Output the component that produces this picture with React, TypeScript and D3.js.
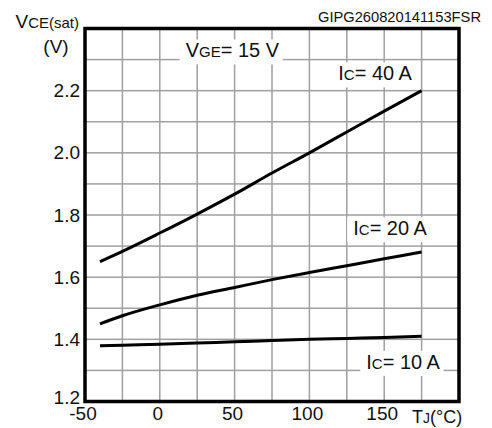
import * as d3 from "d3";
import { useLayoutEffect, useRef, useState } from "react";

// junction temperature (°C) and VCE(sat) (V)
const tempsC = [-40, -25, 0, 25, 50, 75, 100, 125, 150, 175];
const ic40 = [1.65, 1.683, 1.742, 1.803, 1.867, 1.935, 2.0, 2.067, 2.134, 2.2];
const ic20 = [1.45, 1.476, 1.511, 1.542, 1.567, 1.592, 1.615, 1.637, 1.659, 1.681];
const ic10 = [1.379, 1.381, 1.384, 1.388, 1.392, 1.396, 1.4, 1.403, 1.406, 1.41];

const xTicks = [-50, 0, 50, 100, 150];
const yTicks = [1.2, 1.4, 1.6, 1.8, 2.0, 2.2];
const xGrid = [-25, 0, 25, 50, 75, 100, 125, 150, 175];
const yGrid = [1.3, 1.4, 1.5, 1.6, 1.7, 1.8, 1.9, 2.0, 2.1, 2.2, 2.3];

const series = [
  { name: "40", values: ic40 },
  { name: "20", values: ic20 },
  { name: "10", values: ic10 },
];

// annotation anchors in data units (temperature, voltage) at text start/baseline
const labels = [
  { main: "V", sub: "GE", rest: "= 15 V", t: 17.3, v: 2.307 },
  { main: "I", sub: "C", rest: "= 40 A", t: 119.3, v: 2.233 },
  { main: "I", sub: "C", rest: "= 20 A", t: 129.3, v: 1.735 },
  { main: "I", sub: "C", rest: "= 10 A", t: 138, v: 1.305 },
];

const W = 492;
const H = 428;
const FONT = "'Liberation Sans', Arial, sans-serif";
const GRID = "#a0a0a0";

export default function App() {
  const textRefs = useRef<(SVGTextElement | null)[]>([]);
  const [boxes, setBoxes] = useState<{ x: number; y: number; width: number; height: number }[]>([]);

  const left = 85, right = 459, top = 28.5, bottom = 401.5;
  const x = d3.scaleLinear().domain([-50, 200]).range([left, right]);
  const y = d3.scaleLinear().domain([1.2, 2.4]).range([bottom, top]);

  const ln = d3
    .line<number>()
    .x((_, i) => x(tempsC[i]))
    .y((d) => y(d))
    .curve(d3.curveMonotoneX);

  useLayoutEffect(() => {
    setBoxes(
      textRefs.current.map((t) => {
        const b = t!.getBBox();
        return { x: b.x, y: b.y, width: b.width, height: b.height };
      })
    );
  }, []);

  return (
    <svg
      width={W}
      height={H}
      viewBox={`0 0 ${W} ${H}`}
      style={{ position: "absolute", left: 0, top: 0, background: "white" }}
      fontFamily={FONT}
    >
      {xGrid.map((d) => (
        <rect key={"vx" + d} x={x(d) - 0.75} y={top} width={1.5} height={bottom - top} fill={GRID} />
      ))}
      {yGrid.map((d) => (
        <rect key={"hy" + d} x={left} y={y(d) - 0.75} width={right - left} height={1.5} fill={GRID} />
      ))}

      {boxes.map((b, i) => (
        <rect key={"b" + i} x={b.x - 6} y={b.y} width={b.width + 9} height={b.height + 3} fill="white" />
      ))}
      {labels.map((l, i) => (
        <text
          key={"l" + i}
          ref={(el) => {
            textRefs.current[i] = el;
          }}
          x={x(l.t)}
          y={y(l.v)}
          fontSize={20}
          fill="#111"
        >
          <tspan>{l.main}</tspan>
          <tspan fontSize={15}>{l.sub}</tspan>
          <tspan>{l.rest}</tspan>
        </text>
      ))}

      {series.map((s) => (
        <path key={s.name} d={ln(s.values) ?? ""} fill="none" stroke="#000" strokeWidth={3} />
      ))}

      <rect x={left} y={top} width={right - left} height={bottom - top} fill="none" stroke="#000" strokeWidth={3.5} />

      {yTicks.map((d) => (
        <text
          key={"yt" + d}
          x={left - 5}
          y={d === 1.2 ? y(d) - 4 : y(d)}
          dy="0.35em"
          textAnchor="end"
          fontSize={19}
          fill="#111"
        >
          {d3.format(".1f")(d)}
        </text>
      ))}
      {xTicks.map((d) => (
        <text key={"xt" + d} x={x(d) - 2} y={bottom + 18.5} textAnchor="middle" fontSize={19} fill="#111">
          {String(d)}
        </text>
      ))}

      <text x={412} y={bottom + 21} fontSize={18} fill="#111">
        <tspan>T</tspan>
        <tspan fontSize={14}>J</tspan>
        <tspan>(°C)</tspan>
      </text>

      <text x={79} y={28} textAnchor="end" fontSize={19} fill="#111">
        <tspan>V</tspan>
        <tspan fontSize={15}>CE(sat)</tspan>
      </text>
      <text x={56} y={53} textAnchor="middle" fontSize={19} fill="#111">
        (V)
      </text>

      <text x={481} y={22} textAnchor="end" fontSize={14.7} fill="#111">
        GIPG260820141153FSR
      </text>
    </svg>
  );
}
